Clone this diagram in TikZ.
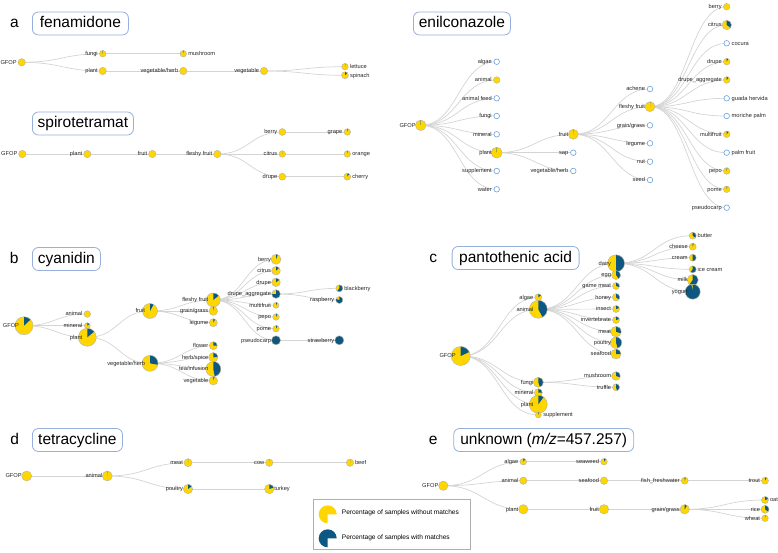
\documentclass[tikz,border=0pt]{standalone}
\usepackage{fontspec}
\setmainfont{Liberation Sans}
\usetikzlibrary{positioning,backgrounds}
\definecolor{GfYellow}{RGB}{255,214,0}
\definecolor{GfBlue}{RGB}{12,88,130}
\definecolor{GfFrame}{RGB}{150,176,222}
\definecolor{GfEmpty}{RGB}{104,162,222}
\definecolor{GfLink}{RGB}{212,212,212}
\definecolor{GfLegend}{RGB}{175,175,175}
\tikzset{
  gf/pie/.style={circle, fill=GfYellow, inner sep=0pt},
  gf/slice/.style={fill=GfBlue},
  gf/rim/.style={draw=black!30, line width=0.4pt},
  gf/nodata/.style={circle, draw=GfEmpty, line width=0.6pt, fill=white, inner sep=0pt, minimum size=5.6pt},
  gf/lbl/.style={font=\fontsize{5.7}{6}\selectfont, text=black!85, inner sep=0.3pt, text height=4.1pt, text depth=0.6pt},
  gf/link/.style={draw=GfLink, line width=0.7pt},
  gf/title/.style={draw=GfFrame, line width=0.8pt, rounded corners=6pt, fill=white, minimum height=23pt,
    text height=11.5pt, text depth=3.4pt, font=\fontsize{15.5}{16}\selectfont, anchor=west},
  gf/letter/.style={font=\fontsize{15.5}{16}\selectfont, anchor=base},
  gf/legend/.style={draw=GfLegend, line width=1.1pt, fill=white, minimum width=157pt, minimum height=50pt, anchor=north west},
  gf/legendtext/.style={font=\fontsize{6.6}{7}\selectfont, anchor=west, inner sep=0pt}
}
% name, position, radius, share with matches, label side, label
\newcommand{\gfpie}[6]{%
  \node[gf/pie, minimum size=#3*2pt] (#1) at (#2) {};
  \ifdim #4pt>0pt
    \fill[gf/slice] (#1.center) -- ++(-90:#3) arc[start angle=-90, delta angle=360*#4, radius=#3] -- cycle;
  \fi
  \draw[gf/rim] (#1.center) circle[radius=#3];
  \node[gf/lbl, #5=4.5pt of #1.center] (#1l) {#6};}
% name, position, label side, label
\newcommand{\gfempty}[4]{%
  \node[gf/nodata] (#1) at (#2) {};
  \node[gf/lbl, #3=4.5pt of #1.center] (#1l) {#4};}

\begin{document}
\begin{tikzpicture}[x=1pt,y=-1pt]
  \useasboundingbox (0,0) rectangle (778,552);

  % a
  \node[gf/letter] (aLetter) at (14.5,27.3) {a};
  \node[gf/title, minimum width=96pt] (aTitle) at (32,23.5) {fenamidone};
  \gfpie{aGFOP}{21.7,62.3}{3.7}{0}{left}{GFOP}
  \gfpie{aFungi}{102.7,53.7}{3.3}{0.02}{left}{fungi}
  \gfpie{aPlant}{102.7,71}{3.7}{0}{left}{plant}
  \gfpie{aMushroom}{183.3,53.7}{3.3}{0.03}{right}{mushroom}
  \gfpie{aVegHerb}{183.3,71}{3.7}{0}{left}{vegetable/herb}
  \gfpie{aVegetable}{264,71}{3.7}{0}{left}{vegetable}
  \gfpie{aLettuce}{345,66.7}{3.3}{0.02}{right}{lettuce}
  \gfpie{aSpinach}{345,75.3}{3.5}{0.12}{right}{spinach}

  \node[gf/title, minimum width=101pt] (sTitle) at (32,123.5) {spirotetramat};
  \gfpie{sGFOP}{22.3,154}{3.7}{0}{left}{GFOP}
  \gfpie{sPlant}{87.3,154}{3.7}{0}{left}{plant}
  \gfpie{sFruit}{152.3,154}{3.7}{0}{left}{fruit}
  \gfpie{sFleshy}{217.3,154}{3.7}{0}{left}{fleshy fruit}
  \gfpie{sBerry}{282.3,132}{3.5}{0}{left}{berry}
  \gfpie{sCitrus}{282.3,154}{3.3}{0.01}{left}{citrus}
  \gfpie{sDrupe}{282.3,176.7}{3.5}{0}{left}{drupe}
  \gfpie{sGrape}{347.3,132}{3.3}{0.04}{left}{grape}
  \gfpie{sOrange}{347.3,154}{3.3}{0.03}{right}{orange}
  \gfpie{sCherry}{347.3,176.7}{3.5}{0.1}{right}{cherry}

  \node[gf/title, minimum width=97pt] (nTitle) at (413,23.5) {enilconazole};
  \gfpie{nGFOP}{420.7,125.3}{5.3}{0.01}{left}{GFOP}
  \gfempty{nAlgae}{496.7,61.7}{left}{algae}
  \gfpie{nAnimal}{496.7,80}{3.3}{0}{left}{animal}
  \gfempty{nAnimalFeed}{496.7,98.3}{left}{animal feed}
  \gfempty{nFungi}{496.7,116}{left}{fungi}
  \gfempty{nMineral}{496.7,134.3}{left}{mineral}
  \gfpie{nPlant}{496.7,152.7}{5.5}{0.01}{left}{plant}
  \gfempty{nSupplement}{496.7,171}{left}{supplement}
  \gfempty{nWater}{496.7,189.3}{left}{water}
  \gfpie{nFruit}{573.3,134.3}{5}{0.01}{left}{fruit}
  \gfempty{nSap}{573.3,152.7}{left}{sap}
  \gfempty{nVegHerb}{573.3,171}{left}{vegetable/herb}
  \gfempty{nAchene}{650,89}{left}{achene}
  \gfpie{nFleshy}{650,106.7}{5}{0.01}{left}{fleshy fruit}
  \gfempty{nGrain}{650,125.3}{left}{grain/grass}
  \gfempty{nLegume}{650,143.3}{left}{legume}
  \gfempty{nNut}{650,161.7}{left}{nut}
  \gfempty{nSeed}{650,180}{left}{seed}
  \gfpie{nBerry}{726.7,6.7}{3.3}{0}{left}{berry}
  \gfpie{nCitrus}{726.7,25}{4.7}{0.35}{left}{citrus}
  \gfempty{nCocura}{726.7,43.3}{right}{cocura}
  \gfpie{nDrupe}{726.7,61.7}{3.3}{0.08}{left}{drupe}
  \gfpie{nDrupeAgg}{726.7,80}{3.3}{0.1}{left}{drupe\_aggregate}
  \gfempty{nGuada}{726.7,98.3}{right}{guada hervida}
  \gfempty{nMoriche}{726.7,116}{right}{moriche palm}
  \gfpie{nMultifruit}{726.7,134.3}{3.3}{0.1}{left}{multifruit}
  \gfempty{nPalm}{726.7,152.7}{right}{palm fruit}
  \gfpie{nPepo}{726.7,171}{3.3}{0.03}{left}{pepo}
  \gfpie{nPome}{726.7,189.3}{3.3}{0.03}{left}{pome}
  \gfempty{nPseudocarp}{726.7,207.7}{left}{pseudocarp}

  % b
  \node[gf/letter] (bLetter) at (14.2,263.3) {b};
  \node[gf/title, minimum width=68pt] (bTitle) at (32,259) {cyanidin};
  \gfpie{bGFOP}{24,325.7}{9}{0.13}{left}{GFOP}
  \gfpie{bAnimal}{87.3,314}{3.3}{0}{left}{animal}
  \gfpie{bMineral}{87.3,325.7}{3}{0.15}{left}{mineral}
  \gfpie{bPlant}{87.3,337.3}{9}{0.14}{left}{plant}
  \gfpie{bFruit}{150,311}{7.5}{0.08}{left}{fruit}
  \gfpie{bVegHerb}{150,363.3}{8}{0.28}{left}{vegetable/herb}
  \gfpie{bFleshy}{213.3,300}{7}{0.14}{left}{fleshy fruit}
  \gfpie{bGrain}{213.3,311}{4.3}{0.03}{left}{grain/grass}
  \gfpie{bLegume}{213.3,322.7}{4}{0.08}{left}{legume}
  \gfpie{bFlower}{213.3,345.7}{4}{0.25}{left}{flower}
  \gfpie{bHerb}{213.3,357.3}{4.7}{0.24}{left}{herb/spice}
  \gfpie{bTea}{213.3,369}{7.5}{0.47}{left}{tea/infusion}
  \gfpie{bVegetable}{213.3,380.7}{4.3}{0.05}{left}{vegetable}
  \gfpie{bBerry}{276,259.3}{5}{0.06}{left}{berry}
  \gfpie{bCitrus}{276,270.7}{4.3}{0.13}{left}{citrus}
  \gfpie{bDrupe}{276,282.3}{4.3}{0.15}{left}{drupe}
  \gfpie{bDrupeAgg}{276,294}{4.3}{0.75}{left}{drupe\_aggregate}
  \gfpie{bMultifruit}{276,305.3}{3}{0.08}{left}{multifruit}
  \gfpie{bPepo}{276,317}{3.3}{0.08}{left}{pepo}
  \gfpie{bPome}{276,328.7}{3.3}{0.08}{left}{pome}
  \gfpie{bPseudocarp}{276,340.3}{4.5}{1}{left}{pseudocarp}
  \gfpie{bBlackberry}{339.3,288.3}{3.5}{0.6}{right}{blackberry}
  \gfpie{bRaspberry}{339.3,300}{3.5}{0.8}{left}{raspberry}
  \gfpie{bStrawberry}{339.3,340.3}{4.5}{1}{left}{strawberry}

  % c
  \node[gf/letter] (cLetter) at (433.3,262.7) {c};
  \node[gf/title, minimum width=127pt] (cTitle) at (451.7,258) {pantothenic acid};
  \gfpie{cGFOP}{460.7,356}{9.5}{0.18}{left}{GFOP}
  \gfpie{cAlgae}{538.3,297.3}{3.5}{0.15}{left}{algae}
  \gfpie{cAnimal}{538.3,309.3}{9}{0.42}{left}{animal}
  \gfpie{cFungi}{538.3,382.3}{5}{0.45}{left}{fungi}
  \gfpie{cMineral}{538.3,392.7}{4}{0.25}{left}{mineral}
  \gfpie{cPlant}{538.3,404.3}{9}{0.1}{left}{plant}
  \gfpie{cSupplement}{538.3,415}{3}{0.05}{right}{supplement}
  \gfpie{cDairy}{616,263.3}{8.5}{0.5}{left}{dairy}
  \gfpie{cEgg}{616,275}{4.5}{0.4}{left}{egg}
  \gfpie{cGameMeat}{616,286}{3.5}{0.3}{left}{game meat}
  \gfpie{cHoney}{616,297.3}{3.7}{0.35}{left}{honey}
  \gfpie{cInsect}{616,309}{3.5}{0.2}{left}{insect}
  \gfpie{cInvertebrate}{616,320}{3.5}{0.2}{left}{invertebrate}
  \gfpie{cMeat}{616,331.7}{5.3}{0.3}{left}{meat}
  \gfpie{cPoultry}{616,342.7}{5.7}{0.45}{left}{poultry}
  \gfpie{cSeafood}{616,354}{5}{0.25}{left}{seafood}
  \gfpie{cMushroom}{616,376}{4.3}{0.3}{left}{mushroom}
  \gfpie{cTruffle}{616,387.3}{3.5}{0.45}{left}{truffle}
  \gfpie{cButter}{692.7,235.7}{3.5}{0.35}{right}{butter}
  \gfpie{cCheese}{692.7,246.7}{3.5}{0.05}{left}{cheese}
  \gfpie{cCream}{692.7,257.7}{3.5}{0.5}{left}{cream}
  \gfpie{cIceCream}{692.7,269.3}{3.5}{0.6}{right}{ice cream}
  \gfpie{cMilk}{692.7,280}{5.5}{0.6}{left}{milk}
  \gfpie{cYogurt}{692.7,291.7}{7.5}{0.97}{left}{yogurt}

  % d
  \node[gf/letter] (dLetter) at (14.7,444.3) {d};
  \node[gf/title, minimum width=90pt] (dTitle) at (32,440) {tetracycline};
  \gfpie{dGFOP}{26.7,476}{5}{0}{left}{GFOP}
  \gfpie{dAnimal}{107.3,476}{5}{0.01}{left}{animal}
  \gfpie{dMeat}{188,462.7}{4}{0.01}{left}{meat}
  \gfpie{dPoultry}{188,489}{4.7}{0.15}{left}{poultry}
  \gfpie{dCow}{269.3,462.7}{3.7}{0.01}{left}{cow}
  \gfpie{dTurkey}{269.3,489}{4.7}{0.2}{right}{turkey}
  \gfpie{dBeef}{350,462.7}{3.7}{0.01}{right}{beef}

  % e
  \node[gf/letter] (eLetter) at (433.3,444.3) {e};
  \node[gf/title, minimum width=180pt] (eTitle) at (453.3,440) {unknown (\textit{m/z}=457.257)};
  \gfpie{eGFOP}{443.3,485.7}{4.7}{0}{left}{GFOP}
  \gfpie{eAlgae}{523.3,461.7}{3.3}{0.1}{left}{algae}
  \gfpie{eAnimal}{523.3,480.7}{3.7}{0}{left}{animal}
  \gfpie{ePlant}{523.3,509.3}{4.7}{0}{left}{plant}
  \gfpie{eSeaweed}{604,461.7}{3.3}{0.1}{left}{seaweed}
  \gfpie{eSeafood}{604,480.7}{3.7}{0}{left}{seafood}
  \gfpie{eFruit}{604,509.3}{4.7}{0}{left}{fruit}
  \gfpie{eFish}{684.7,480.7}{3.5}{0.05}{left}{fish\_freshwater}
  \gfpie{eGrain}{684.7,509.3}{4.7}{0.08}{left}{grain/grass}
  \gfpie{eTrout}{765,480.7}{3.5}{0.08}{left}{trout}
  \gfpie{eOat}{765,500}{3.5}{0.2}{right}{oat}
  \gfpie{eRice}{765,509.3}{4}{0.35}{left}{rice}
  \gfpie{eWheat}{765,518.3}{3.3}{0.03}{left}{wheat}

  % legend
  \node[gf/legend] (legend) at (312.7,499.3) {};
  \fill[GfYellow] (327.7,514.3) -- ++(0:9) arc[start angle=0, delta angle=-270, radius=9] -- cycle;
  \fill[GfBlue] (327.7,538.3) -- ++(0:9) arc[start angle=0, delta angle=-270, radius=9] -- cycle;
  \node[gf/legendtext] (legendWithout) at (341.7,513) {Percentage of samples without matches};
  \node[gf/legendtext] (legendWith) at (341.7,538) {Percentage of samples with matches};

  \begin{pgfonlayer}{background}
    \foreach \p/\c in {aGFOP/aFungi, aGFOP/aPlant, aFungi/aMushroom, aPlant/aVegHerb,
        aVegHerb/aVegetable, aVegetable/aLettuce, aVegetable/aSpinach,
        dGFOP/dAnimal, dAnimal/dMeat, dAnimal/dPoultry, dMeat/dCow, dCow/dBeef, dPoultry/dTurkey,
        eGFOP/eAlgae, eGFOP/eAnimal, eGFOP/ePlant, eAlgae/eSeaweed, eAnimal/eSeafood, eSeafood/eFish,
        eFish/eTrout, ePlant/eFruit, eFruit/eGrain, eGrain/eOat, eGrain/eRice, eGrain/eWheat}
      \draw[gf/link] (\p.center) .. controls +(40,0) and +(-40,0) .. (\c.center);
    \foreach \p/\c in {sGFOP/sPlant, sPlant/sFruit, sFruit/sFleshy, sFleshy/sBerry, sFleshy/sCitrus,
        sFleshy/sDrupe, sBerry/sGrape, sCitrus/sOrange, sDrupe/sCherry}
      \draw[gf/link] (\p.center) .. controls +(32.5,0) and +(-32.5,0) .. (\c.center);
    \foreach \c in {nAlgae, nAnimal, nAnimalFeed, nFungi, nMineral, nPlant, nSupplement, nWater}
      \draw[gf/link] (nGFOP.center) .. controls +(38,0) and +(-38,0) .. (\c.center);
    \foreach \p/\c in {nPlant/nFruit, nPlant/nSap, nPlant/nVegHerb, nFruit/nAchene, nFruit/nFleshy,
        nFruit/nGrain, nFruit/nLegume, nFruit/nNut, nFruit/nSeed}
      \draw[gf/link] (\p.center) .. controls +(38,0) and +(-38,0) .. (\c.center);
    \foreach \c in {nBerry, nCitrus, nCocura, nDrupe, nDrupeAgg, nGuada, nMoriche, nMultifruit,
        nPalm, nPepo, nPome, nPseudocarp}
      \draw[gf/link] (nFleshy.center) .. controls +(38,0) and +(-38,0) .. (\c.center);
    \foreach \p/\c in {bGFOP/bAnimal, bGFOP/bMineral, bGFOP/bPlant, bPlant/bFruit, bPlant/bVegHerb,
        bFruit/bFleshy, bFruit/bGrain, bFruit/bLegume, bVegHerb/bFlower, bVegHerb/bHerb,
        bVegHerb/bTea, bVegHerb/bVegetable, bFleshy/bBerry, bFleshy/bCitrus, bFleshy/bDrupe,
        bFleshy/bDrupeAgg, bFleshy/bMultifruit, bFleshy/bPepo, bFleshy/bPome, bFleshy/bPseudocarp,
        bDrupeAgg/bBlackberry, bDrupeAgg/bRaspberry, bPseudocarp/bStrawberry}
      \draw[gf/link] (\p.center) .. controls +(31.5,0) and +(-31.5,0) .. (\c.center);
    \foreach \p/\c in {cGFOP/cAlgae, cGFOP/cAnimal, cGFOP/cFungi, cGFOP/cMineral, cGFOP/cPlant,
        cGFOP/cSupplement, cAnimal/cDairy, cAnimal/cEgg, cAnimal/cGameMeat, cAnimal/cHoney,
        cAnimal/cInsect, cAnimal/cInvertebrate, cAnimal/cMeat, cAnimal/cPoultry, cAnimal/cSeafood,
        cFungi/cMushroom, cFungi/cTruffle, cDairy/cButter, cDairy/cCheese, cDairy/cCream,
        cDairy/cIceCream, cDairy/cMilk, cDairy/cYogurt}
      \draw[gf/link] (\p.center) .. controls +(39,0) and +(-39,0) .. (\c.center);
  \end{pgfonlayer}
\end{tikzpicture}
\end{document}
